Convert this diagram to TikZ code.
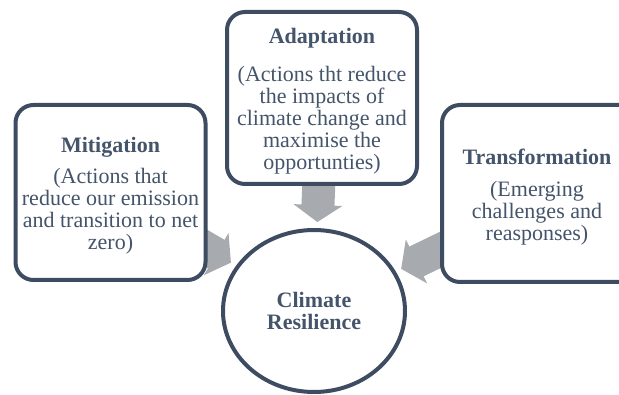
\documentclass[tikz,border=0pt]{standalone}
\usepackage{fontspec}
\setmainfont{Liberation Serif}
\usetikzlibrary{positioning,shapes.geometric,arrows.meta}
\definecolor{boxline}{HTML}{3E4C61}
\definecolor{boxtext}{HTML}{44546A}
\definecolor{arrowgray}{HTML}{A7AAAF}
\pgfdeclarelayer{background}
\pgfsetlayers{background,main}
\newcommand{\topgap}{\rule{0pt}{22pt}}

\begin{document}
\begin{tikzpicture}[x=1pt, y=1pt, font=\fontsize{22}{22}\selectfont,
 block/.style = {draw=boxline, line width=4pt, fill=white, rectangle, rounded corners=18pt,
                 text=boxtext, align=center, minimum width=190pt, inner sep=0pt},
 goal/.style = {draw=boxline, line width=4pt, fill=white, ellipse, minimum width=182pt,
                minimum height=162pt, inner sep=0pt, text=boxtext, align=center, font=\fontsize{22}{22}\selectfont\bfseries},
 bigarrow/.style = {color=arrowgray, line width=33pt, -{Triangle[length=17pt, width=48pt]}, shorten >=6pt},
                        ]
    \useasboundingbox (0,0) rectangle (619,394);

    \node [block, minimum height=175pt] (mitig)   at (110.5,201.5) {\topgap\textbf{Mitigation}\\[9pt] (Actions that\\ reduce our emission\\ and transition to net\\ zero)};
    \node [block, minimum height=172pt] (adapt)   at (322,296)     {\topgap\textbf{Adaptation}\\[16pt] (Actions tht reduce\\ the impacts of\\ climate change and\\ maximise the\\ opportunties)};
    \node [block, minimum height=177pt, minimum width=230pt] (transf) at (557,200.5)
          {\parbox{190pt}{\centering\topgap\textbf{Transformation}\\[10pt] (Emerging\\ challenges and\\ reasponses)}\hspace*{40pt}};
    \node [goal]                        (climate) at (314,83)      {Climate\\ Resilience};

%% arrows
    \begin{pgfonlayer}{background}
    \path[draw, bigarrow] (mitig.center)  edge (climate)
                          (adapt.center)  edge (climate)
                          (transf.center) edge (climate)
                          ;
    \end{pgfonlayer}
\end{tikzpicture}
\end{document}
